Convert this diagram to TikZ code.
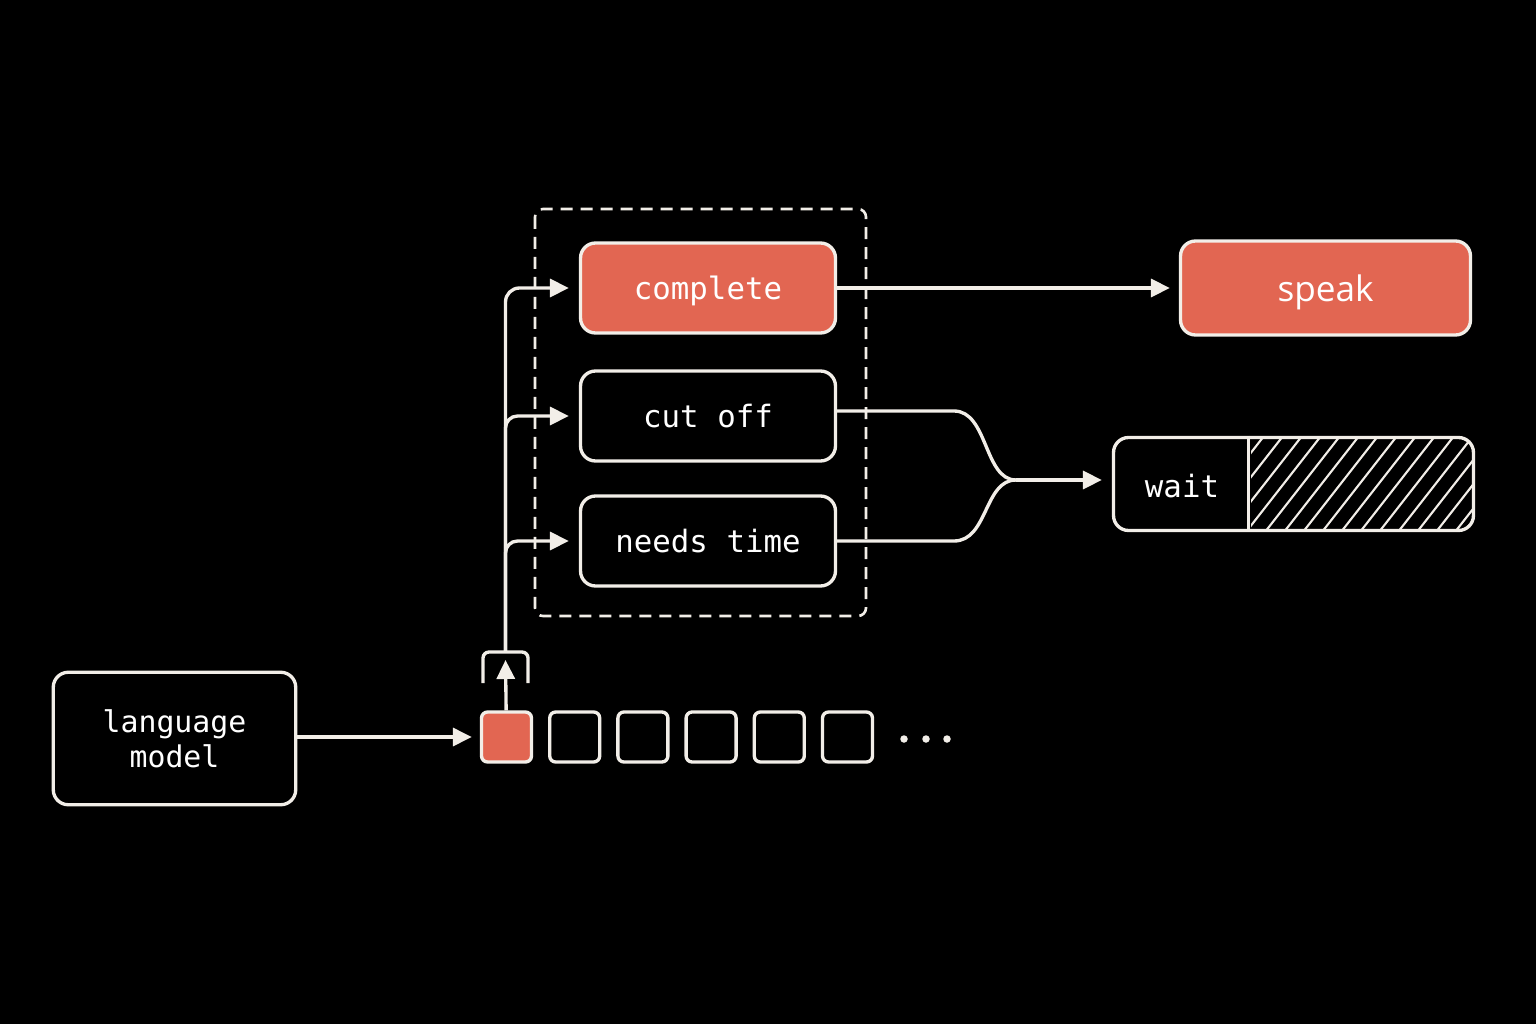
\documentclass[tikz,border=0pt]{standalone}
\usepackage{fontspec}
\setmonofont{DejaVu Sans Mono}
\newfontfamily\speakfont{Open Sans}
\usetikzlibrary{positioning}
\usetikzlibrary{arrows.meta}
\definecolor{accent}{RGB}{226,102,82}
\definecolor{ink}{RGB}{242,238,232}

\begin{document}
\begin{tikzpicture}[
                x=0.02cm, y=-0.02cm,
                >={Triangle[length=0.38cm,width=0.36cm]},
                color=ink,
                line width=1.9pt,
                every node/.style={text=white, font=\ttfamily\fontsize{17.5}{21}\selectfont},
                % Define styles for nodes
                box/.style={draw=ink, fill=black, rounded corners=0.3cm, minimum width=5.1cm, minimum height=1.8cm, text depth=0pt},
                hot box/.style={box, fill=accent},
                token/.style={draw=ink, fill=black, rounded corners=0.12cm, minimum size=1.0cm, inner sep=0pt},
                link/.style={->, shorten >=0.18cm}
            ]
                % Background
                \fill[black] (0,0) rectangle (1536,1024);

                % Define nodes
                \node[box, minimum width=4.85cm, minimum height=2.65cm, align=center,
                      font=\ttfamily\fontsize{17}{20}\selectfont] (lm) at (174.5,738.5) {language\\model};

                \node[token, fill=accent] (t0) at (506.5,737) {};
                \foreach \i in {1,...,5}
                    \node[token] (t\i) at ({506.5+68.2*\i},737) {};
                \foreach \x in {904,926,947}
                    \fill (\x,739) circle (0.075cm);

                \node[hot box] (complete) at (708,288) {complete};
                \node[box] (cutoff) at (708,416) {cut off};
                \node[box] (needs) at (708,541) {needs time};

                \node[hot box, minimum width=5.8cm, minimum height=1.88cm,
                      font=\speakfont\fontsize{20}{24}\selectfont] (speak) at (1325.5,288) {speak};

                \node[box, minimum width=7.2cm, minimum height=1.86cm] (wait) at (1293.5,484) {};
                \node (waitlabel) at (1182,486) {wait};

                % Hatched part of the wait box
                \begin{scope}
                    \clip[rounded corners=0.27cm] (1113.5,437.5) rectangle (1473.5,530.5);
                    \clip (1251,430) rectangle (1480,540);
                    \foreach \x in {1170,1189,...,1480}
                        \draw[line width=1.2pt] (\x,532) -- ++(75,-96);
                \end{scope}
                \draw ([xshift=2.73cm]wait.north west) -- ([xshift=2.73cm]wait.south west);

                % Dashed frame round the three outcomes
                \draw[dash pattern=on 0.24cm off 0.16cm, rounded corners=0.16cm, line width=1.5pt]
                    (535,209) rectangle (866,616);

                % Peek bracket over the first token
                \coordinate (fork) at (505.5,652);
                \coordinate (peek) at (505.5,660);
                \draw[rounded corners=0.12cm] (483,683) |- (fork) -| (528,683);
                \draw[->] (t0) -- (peek);

                % Draw connections
                \draw[link, shorten >=0.16cm] (lm.east |- t0) -- (t0.west);

                \draw[link, shorten >=0.2cm, rounded corners=0.28cm] (fork) |- (complete.west);
                \draw[link, shorten >=0.2cm, rounded corners=0.24cm] (fork) |- (cutoff.west);
                \draw[link, shorten >=0.2cm, rounded corners=0.24cm] (fork) |- (needs.west);

                \draw[link] (complete) -- (speak);

                \coordinate (merge) at (1016,480);
                \draw ([yshift=0.1cm]cutoff.east) -- (954,411) .. controls (988,411) and (984,480) .. (merge);
                \draw (needs.east) -- (954,541) .. controls (988,541) and (984,480) .. (merge);
                \draw[link, shorten >=0.2cm] (merge) -- (merge -| wait.west);
            \end{tikzpicture}
\end{document}
